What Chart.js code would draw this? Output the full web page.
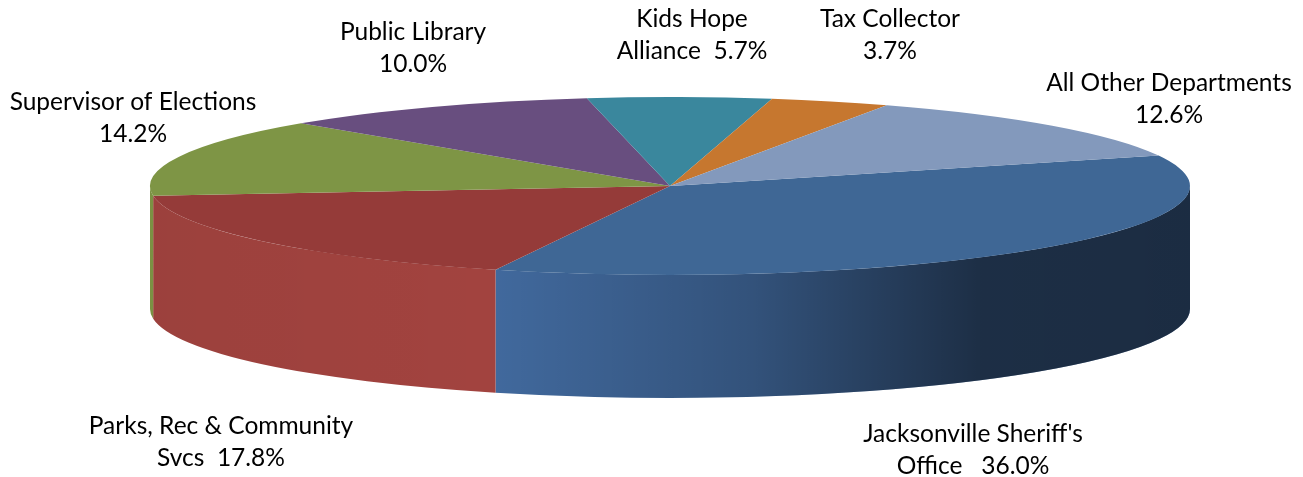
<!DOCTYPE html>
<html>
<head>
<meta charset="utf-8">
<script src="https://cdn.jsdelivr.net/npm/chart.js@4.4.0/dist/chart.umd.min.js"></script>
<style>
html, body { margin: 0; padding: 0; background: #fff; }
#wrap { width: 1303px; height: 477px; }
</style>
</head>
<body>
<div id="wrap"><canvas id="pie"></canvas></div>
<script>
// data, in drawing order (clockwise from the right side)
const departments = ["Jacksonville Sheriff's Office", "Parks, Rec & Community Svcs", "Supervisor of Elections", "Public Library", "Kids Hope Alliance", "Tax Collector", "All Other Departments"];
const shares = [36.0, 17.8, 14.2, 10.0, 5.7, 3.7, 12.6];

// label text as printed, {p} is replaced by the share
const labelLines = [
    ["Jacksonville Sheriff's", "Office   {p}"],
    ["Parks, Rec & Community", "Svcs  {p}"],
    ["Supervisor of Elections", "{p}"],
    ["Public Library", "{p}"],
    ["Kids Hope", "Alliance  {p}"],
    ["Tax Collector", "{p}"],
    ["All Other Departments", "{p}"]
];

const topColors = ["#3f6795", "#953b39", "#7e9545", "#684e7f", "#3a879d", "#c6772f", "#8399bc"];
const sideColors = ["#41699d", "#a2433f", "#809746", "#6a5082", "#3c8aa0", "#c97931", "#8599bf"];

// label placement (centre x, baseline of first line)
const labelPos = [[973, 442], [221, 434], [133, 110], [413, 40], [692, 27], [890, 27], [1169, 91]];
const lineGap = 32;

const tilt = 0.171;   // ry / rx of the top face
const depth = 123;    // height of the side wall

const pie3d = {
    id: "pie3d",
    beforeDatasetsDraw(chart) {
        const ctx = chart.ctx;
        const arcs = chart.getDatasetMeta(0).data;
        if (!arcs.length) return;
        const cx = arcs[0].x, cy = arcs[0].y, rx = arcs[0].outerRadius;
        const ry = rx * tilt;

        //shading across the front wall
        const shade = ctx.createLinearGradient(cx - rx, 0, cx + rx, 0);
        shade.addColorStop(0, "rgba(0,0,0,0.04)");
        shade.addColorStop(0.33, "rgba(0,0,0,0)");
        shade.addColorStop(0.58, "rgba(0,0,0,0.22)");
        shade.addColorStop(0.8, "rgba(0,0,0,0.56)");
        shade.addColorStop(1, "rgba(0,0,0,0.58)");

        arcs.forEach((arc, i) => {
            for (const shift of [0, 2 * Math.PI]) {
                const a = Math.max(arc.startAngle - shift, 0);
                const b = Math.min(arc.endAngle - shift, Math.PI);
                if (b <= a) continue;
                ctx.beginPath();
                ctx.ellipse(cx, cy, rx, ry, 0, a, b);
                ctx.ellipse(cx, cy + depth, rx, ry, 0, b, a, true);
                ctx.closePath();
                ctx.fillStyle = sideColors[i];
                ctx.fill();
                ctx.fillStyle = shade;
                ctx.fill();
            }
        });

        // squash the pie into the top face
        ctx.save();
        ctx.translate(cx, cy);
        ctx.scale(1, tilt);
        ctx.translate(-cx, -cy);
    },
    afterDatasetsDraw(chart) {
        const ctx = chart.ctx;
        ctx.restore();

        ctx.save();
        ctx.font = "24.5px Lato";
        ctx.fillStyle = "#000";
        ctx.textAlign = "center";
        ctx.textBaseline = "alphabetic";
        labelLines.forEach((lines, i) => {
            const pct = shares[i].toFixed(1) + "%";
            lines.forEach((line, j) => {
                ctx.fillText(line.replace("{p}", pct), labelPos[i][0], labelPos[i][1] + j * lineGap);
            });
        });
        ctx.restore();
    }
};

new Chart(document.querySelector("#pie"), {
    type: "pie",
    data: {
        labels: departments,
        datasets: [{
            data: shares,
            backgroundColor: topColors,
            borderWidth: 0,
            clip: false
        }]
    },
    options: {
        responsive: true,
        maintainAspectRatio: false,
        animation: false,
        rotation: 70,
        radius: 520,
        layout: { padding: { left: 37, right: 0, top: 0, bottom: 105 } },
        plugins: {
            legend: { display: false },
            tooltip: { enabled: false }
        },
        events: []
    },
    plugins: [pie3d]
});
</script>
</body>
</html>
